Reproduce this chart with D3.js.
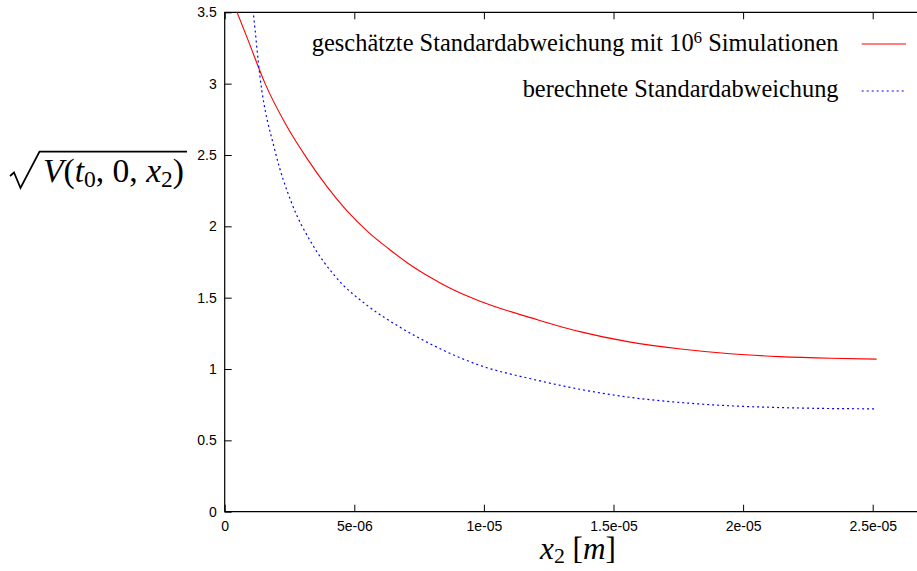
<!DOCTYPE html>
<html>
<head>
<meta charset="utf-8">
<script src="https://cdn.jsdelivr.net/npm/d3@7"></script>
<style>
  html, body { margin: 0; padding: 0; background: #fff; }
  svg { display: block; }
</style>
</head>
<body>
<svg id="chart" width="917" height="571"></svg>
<script>
// ---------- data ----------
const xTicks = [0, 5e-6, 1e-5, 1.5e-5, 2e-5, 2.5e-5];
const xTickLabels = ["0", "5e-06", "1e-05", "1.5e-05", "2e-05", "2.5e-05"];
const yTicks = [0, 0.5, 1, 1.5, 2, 2.5, 3, 3.5];
const yTickLabels = ["0", "0.5", "1", "1.5", "2", "2.5", "3", "3.5"];

const redX = [0, 8.9e-7, 1.56e-6, 2.37e-6, 3.16e-6, 3.94e-6, 4.71e-6, 5.54e-6, 6.31e-6, 7.08e-6, 7.86e-6, 8.76e-6, 9.85e-6, 1.08e-5, 1.18e-5, 1.37e-5, 1.56e-5, 1.76e-5, 1.95e-5, 2.14e-5, 2.34e-5, 2.515e-5];
const redY = [3.72, 3.31, 3.00, 2.71, 2.48, 2.28, 2.11, 1.96, 1.845, 1.74, 1.65, 1.56, 1.475, 1.415, 1.36, 1.262, 1.190, 1.140, 1.107, 1.087, 1.075, 1.069];

const blueX = [1.0e-6, 1.10e-6, 1.36e-6, 1.94e-6, 2.59e-6, 3.36e-6, 4.26e-6, 5.54e-6, 6.70e-6, 8.0e-6, 9.85e-6, 1.18e-5, 1.37e-5, 1.56e-5, 1.76e-5, 1.95e-5, 2.14e-5, 2.34e-5, 2.515e-5];
const blueY = [3.65, 3.50, 3.05, 2.53, 2.16, 1.88, 1.65, 1.44, 1.30, 1.17, 1.025, 0.932, 0.858, 0.802, 0.765, 0.742, 0.730, 0.723, 0.721];

const legendLabels = ["geschätzte Standardabweichung mit 10", "berechnete Standardabweichung"];

// ---------- layout ----------
const svg = d3.select("#chart");
const L = 224.7, T = 12.3, B = 511.7;
const x = d3.scaleLinear().domain([0, 2.5e-5]).range([L, 872.7]);
const y = d3.scaleLinear().domain([0, 3.5]).range([B, T]);
const R = 940; // frame extends beyond the visible area

const serif = "'Liberation Serif', 'DejaVu Serif', serif";
const sans = "'Liberation Sans', Arial, sans-serif";

// clip
svg.append("defs").append("clipPath").attr("id", "plotclip")
  .append("rect").attr("x", L).attr("y", T).attr("width", R - L).attr("height", B - T);

// axes
const xAxis = d3.axisBottom(x).tickValues(xTicks)
  .tickFormat((d, i) => xTickLabels[i]).tickSize(-7).tickPadding(9);
const gx = svg.append("g").attr("transform", `translate(0,${B})`).call(xAxis);

const xTop = d3.axisTop(x).tickValues(xTicks).tickFormat("").tickSize(-7);
const gxt = svg.append("g").attr("transform", `translate(0,${T})`).call(xTop);

const yAxis = d3.axisLeft(y).tickValues(yTicks)
  .tickFormat((d, i) => yTickLabels[i]).tickSize(-7).tickPadding(8);
const gy = svg.append("g").attr("transform", `translate(${L},0)`).call(yAxis);

[gx, gxt, gy].forEach(g => {
  g.select(".domain").remove();
  g.selectAll(".tick line").attr("stroke", "#000").attr("stroke-width", 1);
  g.selectAll(".tick text").attr("fill", "#000")
    .style("font-family", sans).style("font-size", "14px");
});

// frame
svg.append("path")
  .attr("d", `M${R},${T}H${L}V${B}H${R}`)
  .attr("fill", "none").attr("stroke", "#000").attr("stroke-width", 1.2);

// lines
const redData = redX.map((d, i) => [d, redY[i]]);
const blueData = blueX.map((d, i) => [d, blueY[i]]);
const line = d3.line().x(d => x(d[0])).y(d => y(d[1])).curve(d3.curveMonotoneX);

const plot = svg.append("g").attr("clip-path", "url(#plotclip)");
plot.append("path").datum(redData).attr("d", line)
  .attr("fill", "none").attr("stroke", "#ff0000").attr("stroke-width", 1.1);
plot.append("path").datum(blueData).attr("d", line)
  .attr("fill", "none").attr("stroke", "#0000ff").attr("stroke-width", 1.2)
  .attr("stroke-dasharray", "2,3");

// legend
function fitWidth(sel, target) {
  const w = sel.node().getComputedTextLength();
  const fs = parseFloat(sel.style("font-size"));
  sel.style("font-size", (fs * target / w) + "px");
}
const leg1 = svg.append("text").attr("x", 838.5).attr("y", 50.5)
  .attr("text-anchor", "end").style("font-family", serif).style("font-size", "20px");
leg1.append("tspan").text(legendLabels[0]);
leg1.append("tspan").text("6").attr("dy", -8).style("font-size", "0.7em");
leg1.append("tspan").text(" Simulationen").attr("dy", 8);
fitWidth(leg1, 527);

const leg2 = svg.append("text").attr("x", 838.5).attr("y", 97)
  .attr("text-anchor", "end").style("font-family", serif).style("font-size", "20px")
  .text(legendLabels[1]);
fitWidth(leg2, 316);

svg.append("line").attr("x1", 861.7).attr("x2", 906).attr("y1", 44).attr("y2", 44)
  .attr("stroke", "#ff0000").attr("stroke-width", 1.1);
svg.append("line").attr("x1", 861.7).attr("x2", 906).attr("y1", 91).attr("y2", 91)
  .attr("stroke", "#0000ff").attr("stroke-width", 1.2).attr("stroke-dasharray", "2,3");

// y-axis label: sqrt(V(t0, 0, x2))
const yl = svg.append("text").attr("x", 43).attr("y", 182)
  .style("font-family", serif).style("font-size", "30px");
yl.append("tspan").text("V").style("font-style", "italic");
yl.append("tspan").text("(");
yl.append("tspan").text("t").style("font-style", "italic");
yl.append("tspan").text("0").attr("dy", 5).style("font-size", "0.7em");
yl.append("tspan").text(", 0, ").attr("dy", -5);
yl.append("tspan").text("x").style("font-style", "italic");
yl.append("tspan").text("2").attr("dy", 5).style("font-size", "0.7em");
yl.append("tspan").text(")").attr("dy", -5);
fitWidth(yl, 141);
svg.append("path")
  .attr("d", "M10,176 L14,172.5 L20.5,188 L39.5,151.7 L187,151.7")
  .attr("fill", "none").attr("stroke", "#000").attr("stroke-width", 1.8)
  .attr("stroke-linejoin", "miter");

// x-axis label: x2 [m]
const xl = svg.append("text").attr("x", 578).attr("y", 559)
  .attr("text-anchor", "middle")
  .style("font-family", serif).style("font-size", "28px");
xl.append("tspan").text("x").style("font-style", "italic");
xl.append("tspan").text("2").attr("dy", 4).style("font-size", "0.7em");
xl.append("tspan").text(" [").attr("dy", -4);
xl.append("tspan").text("m").style("font-style", "italic");
xl.append("tspan").text("]");
fitWidth(xl, 76);
</script>
</body>
</html>
